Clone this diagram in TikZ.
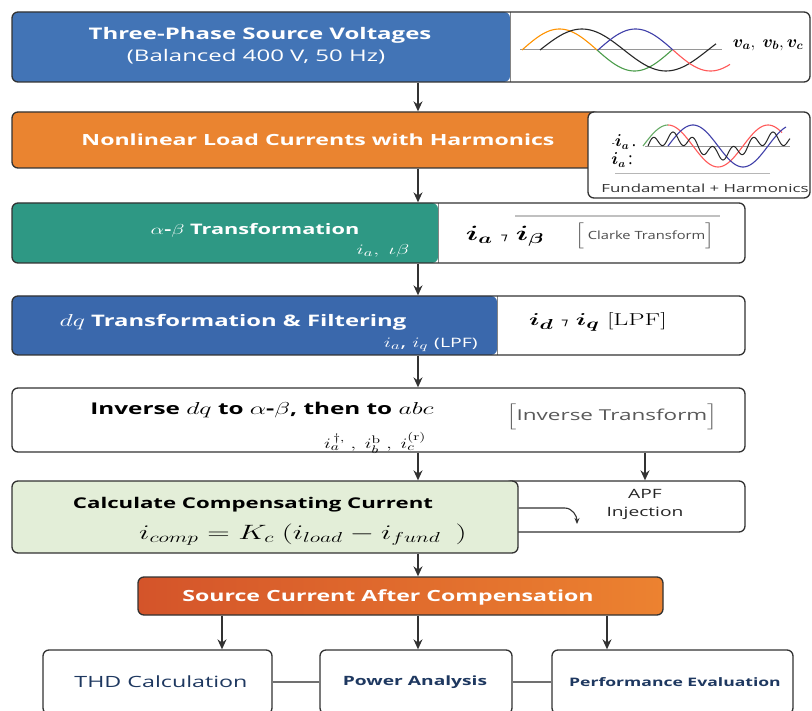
\documentclass[tikz,border=0pt]{standalone}
\usepackage{amsmath}
\usepackage{bm}
\usepackage[no-math]{fontspec}
\setmainfont{Open Sans}
\newfontfamily\symfont{DejaVu Sans}
\usetikzlibrary{arrows.meta, positioning, calc}

\definecolor{srcblue}{RGB}{66,116,182}
\definecolor{dqblue}{RGB}{58,104,172}
\definecolor{loadorange}{RGB}{234,132,48}
\definecolor{clarketeal}{RGB}{46,152,132}
\definecolor{compgreen}{RGB}{227,238,216}
\definecolor{outred}{RGB}{212,84,42}
\definecolor{outorange}{RGB}{236,130,48}
\definecolor{navy}{RGB}{30,56,96}
\definecolor{linec}{RGB}{50,50,50}
\definecolor{wavegray}{RGB}{150,150,150}

\begin{document}
\begin{tikzpicture}[x=1pt, y=-1pt,
    panel/.style={draw=linec, line width=1.3pt, rounded corners=6pt, fill=white, inner sep=0pt},
    split/.style 2 args={path picture={\fill[#1] (path picture bounding box.north west) rectangle ([xshift=#2]path picture bounding box.south west);
        \draw[linec!60, line width=0.6pt] ([xshift=#2]path picture bounding box.north west) -- ([xshift=#2]path picture bounding box.south west);}},
    lbl/.style={inner sep=0pt, xscale=1.5, text=white, font=\bfseries\fontsize{15}{18}\selectfont},
    flow/.style={line width=1.4pt, draw=linec, -{Stealth[length=10pt, width=9pt]}},
    link/.style={line width=2.2pt, draw=linec!70},
    wave/.style={line width=1.1pt}]

    \useasboundingbox (0,0) rectangle (812,711);
    \clip (0,0) rectangle (812,711);

    % Source voltages
    \node (vsrc) [panel, split={srcblue}{498pt}, minimum width=798pt, minimum height=70pt] at (411,47) {};
    \node (vsrcname) [lbl, font=\bfseries\fontsize{16}{19}\selectfont] at (260,35) {Three-Phase Source Voltages};
    \node (vsrcsub) [lbl, font=\fontsize{16}{19}\selectfont] at (256,57) {(Balanced 400 V, 50 Hz)};
    \draw[wavegray, line width=1pt] (520,50) -- (722,50);
    \draw[wave, orange!85!yellow] plot[domain=522:597, samples=40] (\x, {50-21*sin((\x-522)*2.4)});
    \draw[wave, green!45!black!70] plot[domain=597:672, samples=40] (\x, {50-21*sin((\x-522)*2.4)});
    \draw[wave, black!85] plot[domain=540:716, samples=60] (\x, {50-21*sin((\x-540)*2.142857)});
    \draw[wave, blue!55!black!75] plot[domain=598:673, samples=40] (\x, {50-21*sin((\x-598)*2.4)});
    \draw[wave, red!65] plot[domain=673:730, samples=30] (\x, {50-21*sin((\x-598)*2.4)});
    \node (vabc) [inner sep=0pt, font=\fontsize{17}{20}\selectfont] at (768,45) {$\bm{v_a},\ \bm{v_b}, \bm{v_c}$};

    % Nonlinear load currents
    \node (load) [panel, fill=loadorange, minimum width=588pt, minimum height=56pt] at (306,140) {};
    \node (loadwave) [panel, minimum width=222pt, minimum height=86pt] at (699,155) {};
    \node (loadname) [lbl, font=\bfseries\fontsize{15.4}{18}\selectfont] at (318,140) {Nonlinear Load Currents with Harmonics};
    \draw[wavegray, line width=1pt] (645,147) -- (790,147);
    \draw[wave, green!45!black!60] plot[domain=643:668, samples=20] (\x, {146-21*sin((\x-643)*3.6)});
    \draw[wave, red!65] plot[domain=668:782, samples=60] (\x, {146-21*sin((\x-643)*3.6)});
    \draw[wave, blue!55!black!75] plot[domain=668:786, samples=60] (\x, {146-21*sin((\x-668)*3.6)});
    \draw[line width=1pt, black!85] plot[domain=648:790, samples=160] (\x, {146-8*sin((\x-648)*3.6)-6*sin((\x-648)*18)});
    \node (ianeg) [inner sep=0pt, font=\fontsize{16}{18}\selectfont] at (624,142) {{\small -}$\bm{i_a}$\,.};
    \node (iapos) [inner sep=0pt, font=\fontsize{16}{18}\selectfont] at (622,160) {$\bm{i_a}$\,:};
    \draw[wavegray!70, line width=1pt] (615,174) -- (770,174);
    \node (fundharm) [inner sep=0pt, xscale=1.5, text=black!80, font=\fontsize{11.2}{13}\selectfont] at (705,188) {Fundamental + Harmonics};

    % Clarke transform
    \node (clarke) [panel, split={clarketeal}{426pt}, minimum width=733pt, minimum height=60pt] at (378.5,233) {};
    \node (clarkename) [lbl, font=\bfseries\fontsize{14.5}{17}\selectfont] at (255,230) {$\alpha$-$\beta$ Transformation};
    \node (clarkesub) [inner sep=0pt, xscale=1.5, text=white, font=\fontsize{15}{17}\selectfont] at (383,251) {$i_a,\ \iota\beta$};
    \draw[wavegray!60, line width=1.2pt] (515,216) -- (720,216);
    \node (clarkeeq) [inner sep=0pt, xscale=1.5, font=\fontsize{20}{24}\selectfont] at (505,236) {$\bm{i_a}$ {\symfont\fontsize{10}{12}\selectfont ⁊} $\bm{i_\beta}$};
    \node (clarketag) [inner sep=0pt, xscale=1.3, text=black!70, font=\fontsize{15}{18}\selectfont] at (645,236) {$\Big[$\,{\fontsize{11.3}{13}\selectfont Clarke Transform}$\Big]$};

    % dq transform
    \node (park) [panel, split={dqblue}{485pt}, minimum width=733pt, minimum height=59pt] at (378.5,325.5) {};
    \node (parkname) [lbl, font=\bfseries\fontsize{15.9}{19}\selectfont] at (233,322) {$dq$ Transformation \& Filtering};
    \node (parksub) [inner sep=0pt, anchor=east, xscale=1.5, text=white, font=\fontsize{15.5}{18}\selectfont] at (478,345) {$i_a$, $i_q$ {\fontsize{13}{15}\selectfont (LPF)}};
    \node (parkeq) [inner sep=0pt, xscale=1.5, font=\fontsize{19}{22}\selectfont] at (598,322) {$\bm{i_d}$ {\symfont\fontsize{10}{12}\selectfont ⁊} $\bm{i_q}$ $[\mathrm{LPF}]$};

    % Inverse transform
    \node (inv) [panel, minimum width=733pt, minimum height=64pt] at (378.5,420) {};
    \node (invname) [lbl, text=black, font=\bfseries\fontsize{16.2}{19}\selectfont] at (262,410) {Inverse {\fontsize{17}{19}\selectfont$dq$} to {\fontsize{17}{19}\selectfont$\alpha$-$\beta$}, then to {\fontsize{17}{19}\selectfont$abc$}};
    \node (invsub) [inner sep=0pt, xscale=1.4, font=\fontsize{15}{17}\selectfont] at (375,443) {$i_a^{\,\dagger,}\ ,\ i_b^{\mathrm{b}}\ ,\ i_c^{(\mathrm{r})}$};
    \node (invtag) [inner sep=0pt, xscale=1.5, text=black!65, font=\fontsize{15}{18}\selectfont] at (612,417) {$\Big[$Inverse Transform$\Big]$};

    % Compensating current
    \node (apf) [panel, minimum width=240pt, minimum height=51pt] at (625,506.5) {};
    \node (comp) [panel, fill=compgreen, minimum width=506pt, minimum height=72pt] at (265,517) {};
    \node (compname) [lbl, text=black, font=\bfseries\fontsize{14.8}{18}\selectfont] at (253,505) {Calculate Compensating Current};
    \node (compeq) [inner sep=0pt, xscale=1.5, font=\fontsize{19.5}{23}\selectfont] at (303,535) {$i_{comp} = K_c\ (i_{load} - i_{fund}\ \ )$};
    \node (apfname) [inner sep=0pt, xscale=1.5, text=black!85, font=\fontsize{12.8}{15}\selectfont] at (645,494) {APF};
    \node (apfinj) [inner sep=0pt, xscale=1.5, text=black!85, font=\fontsize{12.8}{15}\selectfont] at (645,513) {Injection};
    \coordinate (injtip) at (577,524);
    \draw[line width=1.1pt, draw=linec, -{Stealth[length=6pt, width=5pt]}] ($(comp.east)+(0,-9)$) -- ++(46,0) to[out=0, in=90] (injtip);

    % Source current after compensation
    \node (srcout) [panel, left color=outred, right color=outorange, minimum width=525pt, minimum height=38pt] at (400.5,596) {};
    \node (srcoutname) [lbl, font=\bfseries\fontsize{15.4}{18}\selectfont] at (388,597) {Source Current After Compensation};

    % Analysis blocks
    \node (thd) [panel, minimum width=229pt, minimum height=64pt] at (157.5,682) {};
    \node (pow) [panel, minimum width=192pt, minimum height=64pt] at (416,682) {};
    \node (perf) [panel, minimum width=241pt, minimum height=64pt] at (672.5,682) {};
    \node (thdname) [inner sep=0pt, xscale=1.5, text=navy, font=\fontsize{15.5}{18}\selectfont] at (161,682) {THD Calculation};
    \node (powname) [inner sep=0pt, xscale=1.5, text=navy, font=\bfseries\fontsize{12.8}{15}\selectfont] at (415,682) {Power Analysis};
    \node (perfname) [inner sep=0pt, xscale=1.5, text=navy, font=\bfseries\fontsize{11.7}{14}\selectfont] at (675,682) {Performance Evaluation};
    \draw[link] (thd) -- (pow);
    \draw[link] (pow) -- (perf);

    % Flow arrows
    \coordinate (spine) at (418,0);
    \coordinate (tapA) at (222,0);
    \coordinate (tapC) at (607,0);
    \draw[flow] (vsrc.south -| spine) -- (load.north -| spine);
    \draw[flow] (load.south -| spine) -- (clarke.north -| spine);
    \draw[flow] (clarke.south -| spine) -- (park.north -| spine);
    \draw[flow] (park.south -| spine) -- (inv.north -| spine);
    \draw[flow] (inv.south -| spine) -- (comp.north -| spine);
    \draw[flow] (inv.south -| apfname) -- (apf.north -| apfname);
    \draw[flow] (comp.south -| spine) -- (srcout.north -| spine);
    \draw[flow] (srcout.south -| tapA) -- (thd.north -| tapA);
    \draw[flow] (srcout.south -| spine) -- (pow.north -| spine);
    \draw[flow] (srcout.south -| tapC) -- (perf.north -| tapC);
\end{tikzpicture}
\end{document}
